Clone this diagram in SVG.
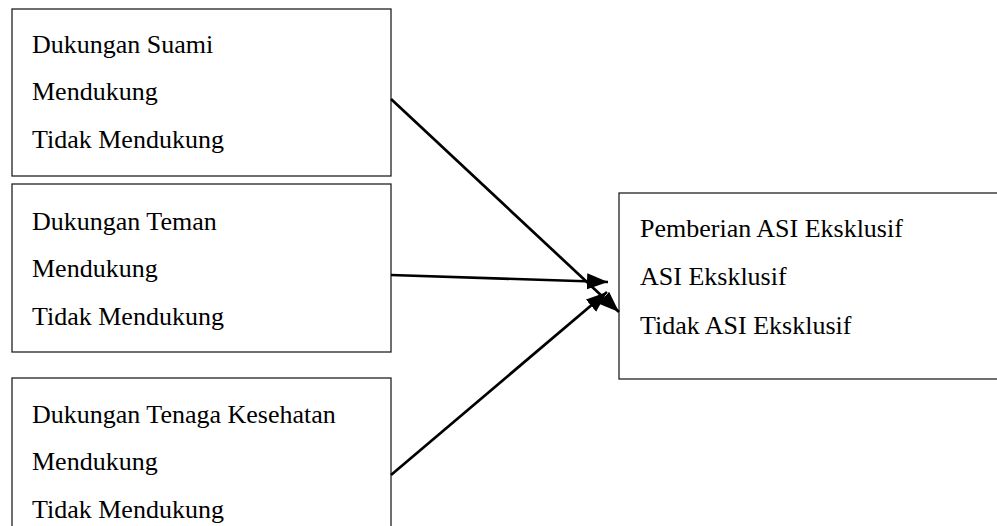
<svg xmlns="http://www.w3.org/2000/svg" width="997" height="526" viewBox="0 0 997 526">
<style>
.box{fill:#fff;stroke:#222;stroke-width:1.3}
.t{font-family:"Liberation Serif","Times New Roman",serif;font-size:26px;fill:#000}
.c{stroke:#000;stroke-width:2.7;fill:none;marker-end:url(#ah)}
</style>
<defs>
<marker id="ah" markerUnits="userSpaceOnUse" markerWidth="24" markerHeight="18" refX="21" refY="8" orient="auto">
<path d="M0,0 L21,8 L0,16 Z" fill="#000"/>
</marker>
</defs>
<rect width="997" height="526" fill="#fff"/>
<g id="node-suami">
<rect class="box" x="12" y="9" width="379" height="167"/>
<text class="t" x="32" y="53">Dukungan Suami</text>
<text class="t" x="32" y="100">Mendukung</text>
<text class="t" x="32" y="148">Tidak Mendukung</text>
</g>
<g id="node-teman">
<rect class="box" x="12" y="184" width="379" height="168"/>
<text class="t" x="32" y="230">Dukungan Teman</text>
<text class="t" x="32" y="277">Mendukung</text>
<text class="t" x="32" y="325">Tidak Mendukung</text>
</g>
<g id="node-nakes">
<rect class="box" x="12" y="378" width="379" height="170"/>
<text class="t" x="32" y="423">Dukungan Tenaga Kesehatan</text>
<text class="t" x="32" y="470">Mendukung</text>
<text class="t" x="32" y="518">Tidak Mendukung</text>
</g>
<g id="node-asi">
<rect class="box" x="619" y="193" width="400" height="186"/>
<text class="t" x="640" y="237">Pemberian ASI Eksklusif</text>
<text class="t" x="640" y="285">ASI Eksklusif</text>
<text class="t" x="640" y="334">Tidak ASI Eksklusif</text>
</g>
<g id="connectors">
<line class="c" x1="391" y1="99" x2="619" y2="312"/>
<line class="c" x1="391" y1="275" x2="608" y2="282"/>
<line class="c" x1="391" y1="475" x2="607" y2="292"/>
</g>
</svg>
